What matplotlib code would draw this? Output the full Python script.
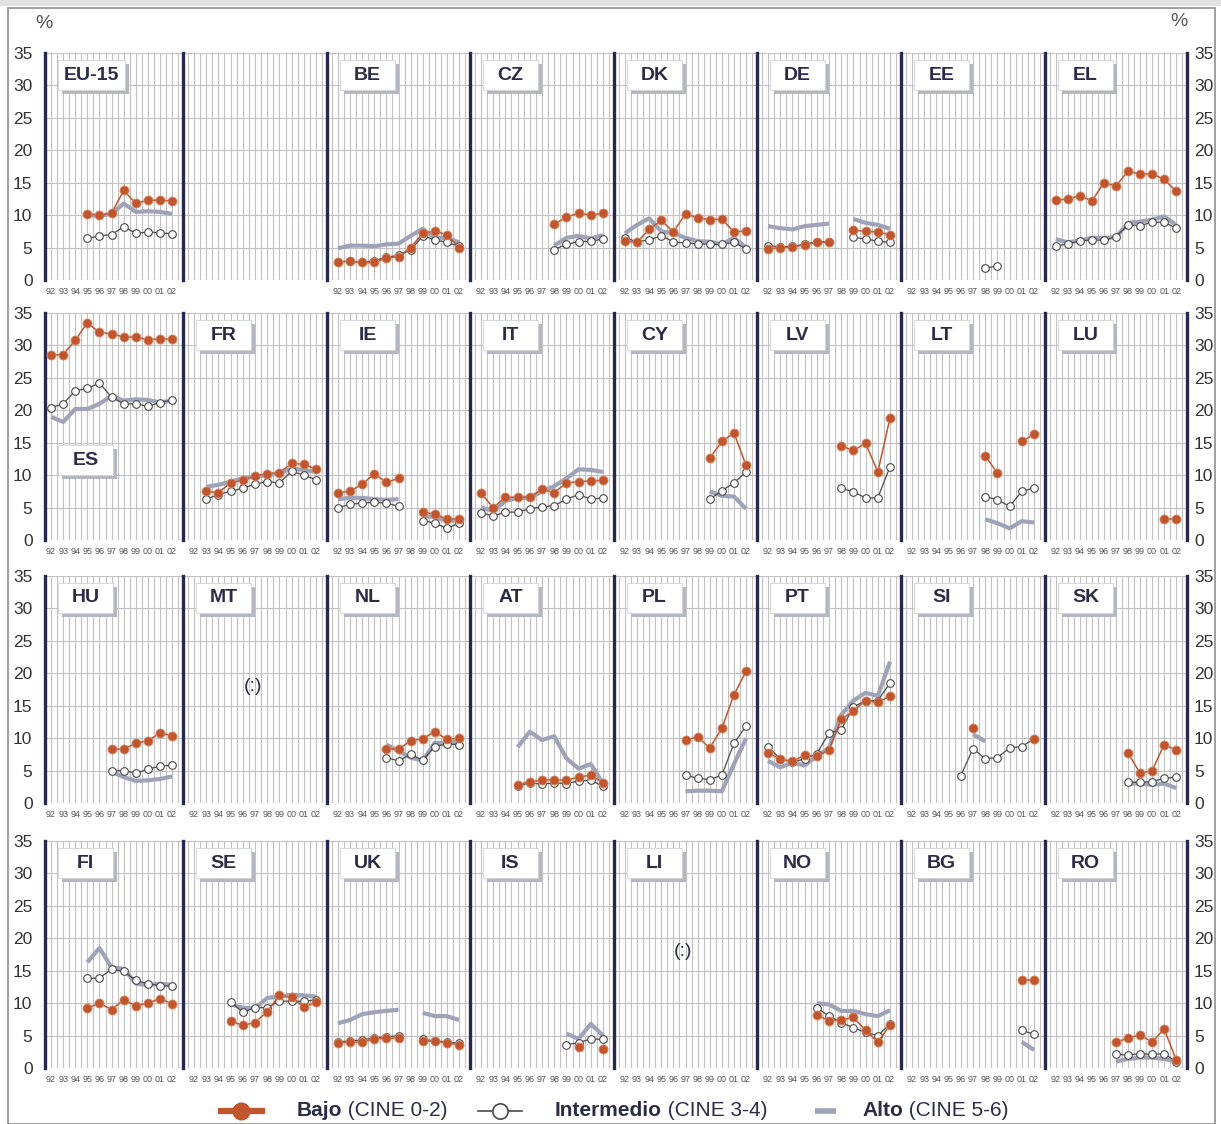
import numpy as np
import matplotlib
matplotlib.use("Agg")
import matplotlib.pyplot as plt
from matplotlib.patches import Rectangle
from matplotlib.lines import Line2D

W, H = 1221, 1124

years = [92, 93, 94, 95, 96, 97, 98, 99, 100, 101, 102]
year_labels = ["92", "93", "94", "95", "96", "97", "98", "99", "00", "01", "02"]
y_ticks = [0, 5, 10, 15, 20, 25, 30, 35]

rows = [
    ["EU-15", "", "BE", "CZ", "DK", "DE", "EE", "EL"],
    ["ES", "FR", "IE", "IT", "CY", "LV", "LT", "LU"],
    ["HU", "MT", "NL", "AT", "PL", "PT", "SI", "SK"],
    ["FI", "SE", "UK", "IS", "LI", "NO", "BG", "RO"],
]
no_data = ["MT", "LI"]

_ = None
E = [_] * 11

# Bajo (CINE 0-2)
bajo = {
    "EU-15": [_, _, _, 10.2, 10.0, 10.3, 13.8, 11.8, 12.3, 12.3, 12.2],
    "BE": [2.8, 2.9, 2.7, 2.7, 3.4, 3.6, 5.0, 7.2, 7.5, 7.0, 5.0],
    "CZ": [_, _, _, _, _, _, 8.6, 9.7, 10.3, 10.0, 10.3],
    "DK": [6.0, 5.8, 7.8, 9.2, 7.4, 10.2, 9.6, 9.3, 9.4, 7.4, 7.6],
    "DE": [4.8, 5.0, 5.1, 5.4, 5.8, 5.8, _, 7.7, 7.5, 7.4, 7.0],
    "EE": E,
    "EL": [12.3, 12.5, 13.0, 12.2, 15.0, 14.5, 16.8, 16.3, 16.4, 15.5, 13.7],
    "ES": [28.5, 28.6, 30.8, 33.5, 32.0, 31.8, 31.3, 31.3, 30.9, 31.0, 31.0],
    "FR": [_, 7.5, 7.3, 8.8, 9.2, 9.9, 10.2, 10.4, 11.8, 11.7, 10.9],
    "IE": [7.3, 7.5, 8.6, 10.2, 8.9, 9.5, _, 4.3, 4.0, 3.2, 3.3],
    "IT": [7.2, 5.0, 6.6, 6.6, 6.6, 7.8, 7.3, 8.8, 9.0, 9.1, 9.2],
    "CY": [_, _, _, _, _, _, _, 12.6, 15.2, 16.5, 11.5],
    "LV": [_, _, _, _, _, _, 14.5, 13.8, 14.9, 10.5, 18.8],
    "LT": [_, _, _, _, _, _, 13.0, 10.3, _, 15.2, 16.3],
    "LU": [_, _, _, _, _, _, _, _, _, 3.3, 3.3],
    "HU": [_, _, _, _, _, 8.3, 8.3, 9.2, 9.6, 10.8, 10.4],
    "MT": E,
    "NL": [_, _, _, _, 8.4, 8.3, 9.6, 9.9, 11.0, 9.8, 10.0],
    "AT": [_, _, _, 2.8, 3.3, 3.5, 3.6, 3.5, 4.0, 4.3, 3.1],
    "PL": [_, _, _, _, _, 9.7, 10.2, 8.5, 11.5, 16.7, 20.3],
    "PT": [7.7, 6.8, 6.4, 7.4, 7.2, 8.2, 12.9, 14.2, 15.8, 15.5, 16.5],
    "SI": [_, _, _, _, _, 11.5, _, _, _, _, 9.8],
    "SK": [_, _, _, _, _, _, 7.7, 4.6, 5.0, 9.0, 8.2],
    "FI": [_, _, _, 9.2, 10.0, 9.0, 10.5, 9.6, 10.0, 10.7, 9.9],
    "SE": [_, _, _, 7.2, 6.6, 7.0, 8.7, 11.2, 10.9, 9.4, 10.1],
    "UK": [3.9, 4.0, 4.0, 4.5, 4.6, 4.6, _, 4.2, 4.1, 3.9, 3.6],
    "IS": [_, _, _, _, _, _, _, _, 3.2, _, 3.0],
    "LI": E,
    "NO": [_, _, _, _, 8.2, 7.3, 7.4, 7.8, 5.8, 4.0, 6.6],
    "BG": [_, _, _, _, _, _, _, _, _, 13.6, 13.6],
    "RO": [_, _, _, _, _, 4.0, 4.6, 5.1, 4.0, 6.0, 1.3],
}

# Intermedio (CINE 3-4)
intermedio = {
    "EU-15": [_, _, _, 6.4, 6.8, 7.0, 8.2, 7.2, 7.4, 7.3, 7.1],
    "BE": [2.8, 2.9, 2.7, 3.0, 3.5, 3.8, 4.6, 6.8, 6.2, 5.8, 5.2],
    "CZ": [_, _, _, _, _, _, 4.7, 5.5, 5.9, 6.0, 6.3],
    "DK": [6.5, 5.9, 6.2, 6.8, 5.9, 5.7, 5.6, 5.5, 5.5, 5.8, 4.8],
    "DE": [5.3, 5.1, 5.2, 5.5, 5.9, 5.9, _, 6.6, 6.3, 6.0, 5.8],
    "EE": [_, _, _, _, _, _, 1.8, 2.2, _, _, _],
    "EL": [5.2, 5.6, 6.0, 6.2, 6.1, 6.7, 8.5, 8.4, 8.9, 8.9, 8.0],
    "ES": [20.4, 21.0, 23.0, 23.4, 24.2, 22.0, 21.0, 21.0, 20.6, 21.2, 21.6],
    "FR": [_, 6.3, 7.0, 7.5, 8.0, 8.6, 9.0, 8.8, 10.6, 10.0, 9.3],
    "IE": [5.0, 5.5, 5.7, 5.8, 5.7, 5.2, _, 3.0, 2.6, 1.8, 2.6],
    "IT": [4.2, 3.7, 4.3, 4.3, 4.8, 5.1, 5.3, 6.3, 7.0, 6.3, 6.5],
    "CY": [_, _, _, _, _, _, _, 6.3, 7.6, 8.8, 10.5],
    "LV": [_, _, _, _, _, _, 8.0, 7.4, 6.5, 6.5, 11.3],
    "LT": [_, _, _, _, _, _, 6.7, 6.2, 5.2, 7.5, 8.0],
    "LU": E,
    "HU": [_, _, _, _, _, 5.0, 5.0, 4.6, 5.2, 5.7, 5.8],
    "MT": E,
    "NL": [_, _, _, _, 7.0, 6.5, 7.5, 6.6, 8.7, 9.1, 9.0],
    "AT": [_, _, _, 2.6, 3.1, 2.9, 3.1, 3.0, 3.4, 3.5, 2.6],
    "PL": [_, _, _, _, _, 4.3, 3.8, 3.6, 4.3, 9.2, 11.9],
    "PT": [8.7, 6.8, 6.3, 6.8, 7.6, 10.8, 11.3, 14.8, 15.8, 15.8, 18.5],
    "SI": [_, _, _, _, 4.2, 8.4, 6.8, 7.0, 8.5, 8.7, 9.9],
    "SK": [_, _, _, _, _, _, 3.2, 3.2, 3.3, 3.8, 4.0],
    "FI": [_, _, _, 13.8, 13.9, 15.2, 14.9, 13.5, 13.0, 12.7, 12.6],
    "SE": [_, _, _, 10.2, 8.6, 9.3, 9.3, 10.3, 10.3, 10.3, 10.5],
    "UK": [4.0, 4.2, 4.3, 4.7, 4.8, 5.0, _, 4.4, 4.2, 4.0, 3.8],
    "IS": [_, _, _, _, _, _, _, 3.6, 3.9, 4.5, 4.4],
    "LI": E,
    "NO": [_, _, _, _, 9.3, 8.0, 7.0, 6.2, 5.5, 5.0, 6.8],
    "BG": [_, _, _, _, _, _, _, _, _, 5.8, 5.2],
    "RO": [_, _, _, _, _, 2.1, 2.0, 2.2, 2.1, 2.2, 1.0],
}

# Alto (CINE 5-6)
alto = {
    "EU-15": [_, _, _, 10.0, 9.9, 10.2, 11.8, 10.5, 10.6, 10.5, 10.2],
    "BE": [4.9, 5.3, 5.3, 5.2, 5.5, 5.6, 6.8, 7.9, 6.5, 6.5, 5.8],
    "CZ": [_, _, _, _, _, _, 5.3, 6.5, 6.8, 6.4, 6.9],
    "DK": [7.2, 8.5, 9.5, 7.5, 7.2, 6.5, 6.0, 5.9, 5.5, 6.5, 5.0],
    "DE": [8.3, 8.0, 7.8, 8.3, 8.5, 8.7, _, 9.4, 8.8, 8.5, 7.9],
    "EE": E,
    "EL": [6.3, 5.8, 6.1, 6.5, 6.5, 6.6, 8.8, 9.0, 9.3, 9.8, 8.5],
    "ES": [19.0, 18.2, 20.2, 20.2, 21.0, 22.2, 21.5, 21.7, 21.6, 21.2, 21.5],
    "FR": [_, 8.2, 8.5, 9.0, 9.5, 9.8, 10.0, 10.3, 11.0, 10.8, 10.5],
    "IE": [6.3, 6.5, 6.5, 6.3, 6.2, 6.3, _, 3.8, 3.5, 3.0, 3.0],
    "IT": [5.0, 4.5, 6.0, 6.5, 6.5, 7.5, 8.3, 9.5, 10.9, 10.8, 10.5],
    "CY": [_, _, _, _, _, _, _, 7.5, 6.8, 6.7, 4.8],
    "LV": E,
    "LT": [_, _, _, _, _, _, 3.2, 2.6, 1.8, 2.9, 2.7],
    "LU": E,
    "HU": [_, _, _, _, _, 4.8, 4.0, 3.4, 3.5, 3.7, 4.1],
    "MT": E,
    "NL": [_, _, _, _, 9.0, 8.0, 7.0, 6.5, 9.3, 9.2, 9.5],
    "AT": [_, _, _, 8.6, 11.0, 9.7, 10.3, 6.9, 5.3, 6.0, 3.0],
    "PL": [_, _, _, _, _, 1.8, 1.9, 1.9, 1.8, 6.0, 10.0],
    "PT": [6.5, 5.5, 6.2, 5.8, 7.2, 8.5, 13.6, 15.8, 17.0, 16.5, 21.8],
    "SI": [_, _, _, _, _, 10.6, 9.5, _, _, _, _],
    "SK": [_, _, _, _, _, _, 3.0, 3.0, 2.8, 3.0, 2.3],
    "FI": [_, _, _, 16.3, 18.5, 15.5, 15.3, 13.0, 12.8, 13.0, 12.8],
    "SE": [_, _, _, 9.8, 9.3, 9.2, 10.8, 11.0, 11.3, 11.2, 11.0],
    "UK": [6.9, 7.4, 8.3, 8.6, 8.8, 9.0, _, 8.5, 8.0, 8.0, 7.4],
    "IS": [_, _, _, _, _, _, _, 5.3, 4.5, 6.8, 5.0],
    "LI": E,
    "NO": [_, _, _, _, 10.0, 9.8, 8.8, 8.8, 8.3, 8.0, 8.9],
    "BG": [_, _, _, _, _, _, _, _, _, 4.0, 2.8],
    "RO": [_, _, _, _, _, 1.0, 1.4, 1.6, 1.6, 1.4, 1.0],
}

# Styling
C_BAJO = "#c0552e"
C_BAJO_EDGE = "#d98a62"
C_INT = "#4a4a4a"
C_ALTO = "#9ea3b9"
C_SEP = "#26284d"
C_GRID = "#c2c2c2"
C_TEXT = "#2a2c48"
NARROW = ["Liberation Sans Narrow", "Liberation Sans", "DejaVu Sans"]
BOLD = ["Liberation Sans", "DejaVu Sans"]

fig = plt.figure(figsize=(W / 100, H / 100), dpi=100)
fig.patch.set_facecolor("white")


def fx(x):
    return x / W


def fy(y):
    return 1 - y / H


# Outer frame of the figure panel
fig.add_artist(Rectangle((0, fy(6)), 1, 6 / H, transform=fig.transFigure,
                         facecolor="#e2e2e2", edgecolor="none", zorder=0))
fig.add_artist(Rectangle((fx(8), 0), (1215 - 8) / W, fy(8), transform=fig.transFigure,
                         fill=False, edgecolor="#8e8e8e", lw=1.2, zorder=0))

xb = [45, 183, 327, 470, 614, 757, 901, 1045, 1187]
row_top = [53, 313, 576, 841]
row_bot = [280, 540, 803, 1068]
PX_PER_UNIT = (row_bot[0] - row_top[0]) / 35.0

for r, row in enumerate(rows):
    t, b = row_top[r], row_bot[r]
    for c, code in enumerate(row):
        left, right = xb[c], xb[c + 1]
        ax = fig.add_axes([fx(left), fy(b), (right - left) / W, (b - t) / H])
        ax.set_facecolor("white")
        x0 = 91.6 if c == 0 else 91.1
        ax.set_xlim(x0, 102.9)
        ax.set_ylim(0, 35)
        ax.set_yticks(y_ticks)
        ax.set_xticks(years)
        ax.set_xticklabels(year_labels if code else [""] * len(years),
                           fontsize=6.5, color="#555555", family=NARROW)
        ax.set_xticks(np.arange(91.5, 103.0, 1.0), minor=True)
        ax.grid(which="both", axis="x", color=C_GRID, lw=0.8)
        ax.grid(which="major", axis="y", color=C_GRID, lw=0.8)
        ax.set_axisbelow(True)
        ax.tick_params(which="both", length=0)
        ax.tick_params(axis="x", pad=5)
        for s in ["top", "bottom", "right"]:
            ax.spines[s].set_visible(False)
        ax.spines["left"].set_color(C_SEP)
        ax.spines["left"].set_linewidth(2.4)
        if c == 7:
            ax.spines["right"].set_visible(True)
            ax.spines["right"].set_color(C_SEP)
            ax.spines["right"].set_linewidth(2.4)
            ax.tick_params(axis="y", labelleft=False, labelright=True, pad=5)
        elif c == 0:
            ax.tick_params(axis="y", labelleft=True, pad=9)
        else:
            ax.tick_params(axis="y", labelleft=False)
        for lab in ax.get_yticklabels():
            lab.set_fontsize(12.5)
            lab.set_family(NARROW)
            lab.set_color("#333333")

        if not code:
            continue

        ya = np.array(alto[code], dtype=float)
        yi = np.array(intermedio[code], dtype=float)
        yb = np.array(bajo[code], dtype=float)
        ax.plot(years, ya, color=C_ALTO, lw=3.0, solid_capstyle="butt",
                solid_joinstyle="round", zorder=2, clip_on=False)
        ax.plot(years, yi, color=C_INT, lw=0.9, marker="o", ms=5.5,
                mfc="white", mec=C_INT, mew=0.8, zorder=3, clip_on=False)
        ax.plot(years, yb, color=C_BAJO, lw=1.1, marker="o", ms=6.5,
                mfc=C_BAJO, mec=C_BAJO_EDGE, mew=0.6, zorder=4, clip_on=False)

        if code in no_data:
            ax.text(96.8, 18, "(:)", ha="center", va="center", fontsize=14,
                    color=C_TEXT, family=NARROW)

        # Country label box with drop shadow
        bw = 67 if len(code) > 2 else 55
        bh = 30
        bx = left + 13
        if code == "ES":
            by = t + (35 - 12.3) * PX_PER_UNIT - bh / 2
        else:
            by = t + 7
        fig.add_artist(Rectangle((fx(bx + 4), fy(by + bh + 4)), bw / W, bh / H,
                                 transform=fig.transFigure, facecolor="#b4b6c4",
                                 edgecolor="none", zorder=5))
        fig.add_artist(Rectangle((fx(bx), fy(by + bh)), bw / W, bh / H,
                                 transform=fig.transFigure, facecolor="white",
                                 edgecolor="#d2d2d2", lw=0.6, zorder=6))
        fig.text(fx(bx + bw / 2), fy(by + bh / 2), code, ha="center", va="center",
                 fontsize=14, fontweight="bold", color=C_TEXT, family=BOLD, zorder=7)

# Unit markers
fig.text(fx(44), fy(23), "%", ha="center", va="center", fontsize=14,
         color="#555555", family=NARROW)
fig.text(fx(1179), fy(22), "%", ha="center", va="center", fontsize=14,
         color="#555555", family=NARROW)

# Legend
ly = 1111
fig.add_artist(Line2D([fx(218), fx(265)], [fy(ly), fy(ly)], transform=fig.transFigure,
                      color=C_BAJO, lw=4.5, solid_capstyle="butt"))
fig.add_artist(Line2D([fx(241)], [fy(ly)], transform=fig.transFigure, marker="o",
                      ms=12, mfc=C_BAJO, mec=C_BAJO, lw=0))
fig.add_artist(Line2D([fx(478), fx(522)], [fy(ly), fy(ly)], transform=fig.transFigure,
                      color=C_INT, lw=1.2))
fig.add_artist(Line2D([fx(500)], [fy(ly)], transform=fig.transFigure, marker="o",
                      ms=11, mfc="white", mec=C_INT, mew=1.2, lw=0))
fig.add_artist(Line2D([fx(815), fx(836)], [fy(ly), fy(ly)], transform=fig.transFigure,
                      color=C_ALTO, lw=4.0, solid_capstyle="butt"))

renderer = fig.canvas.get_renderer()
for x_start, bold_txt, rest in [(297, "Bajo", " (CINE 0-2)"),
                                (555, "Intermedio", " (CINE 3-4)"),
                                (862, "Alto", " (CINE 5-6)")]:
    tb = fig.text(fx(x_start), fy(ly), bold_txt, ha="left", va="center",
                  fontsize=15, fontweight="bold", color=C_TEXT, family=NARROW)
    bb = tb.get_window_extent(renderer)
    fig.text(bb.x1 / W, fy(ly), rest, ha="left", va="center",
             fontsize=15, color=C_TEXT, family=NARROW)

fig.savefig("out.png", dpi=100, facecolor="white")
